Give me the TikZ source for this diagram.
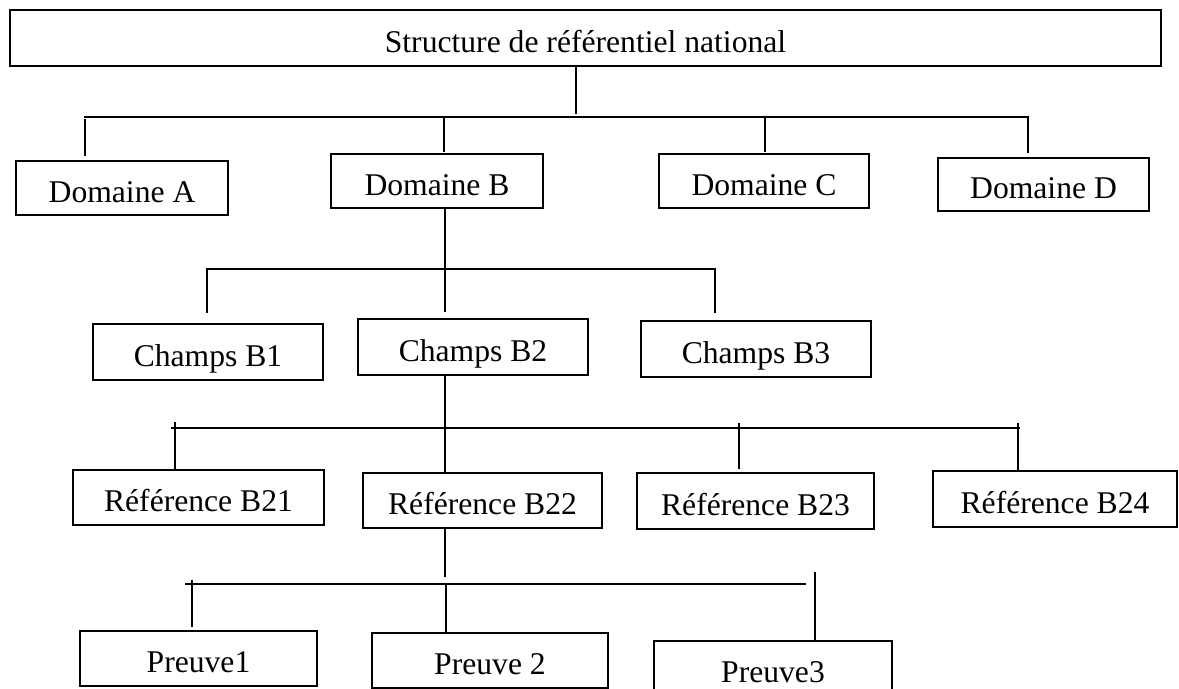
\documentclass[tikz,border=0pt]{standalone}
\usepackage{fontspec}
\setmainfont{Liberation Serif}
\usepackage{tikz}
\usetikzlibrary{calc,positioning}
\newlength\unitpx
\setlength\unitpx{0.02cm}
\tikzset{
  boxn/.style n args={2}{draw,line width=1.1pt,inner sep=0pt,
    minimum width=#1\unitpx,minimum height=#2\unitpx,
    font=\fontsize{18}{20}\selectfont,text height=16pt,text depth=0pt},
  link/.style={line width=0.6pt},
}

\begin{document}
\begin{tikzpicture}[x=0.02cm,y=-0.02cm]
  \useasboundingbox (0,0) rectangle (1179,689);
  \clip (0,0) rectangle (1179,689);
  % boxes
  \node[boxn={1151}{56}] (top) at (585.5,38) {Structure de référentiel national};
  \node[boxn={212}{54}] (domA) at (122,188)    {Domaine A};
  \node[boxn={212}{54}] (domB) at (437,181)    {Domaine B};
  \node[boxn={210}{54}] (domC) at (764,181)    {Domaine C};
  \node[boxn={211}{53}] (domD) at (1043.5,184.5) {Domaine D};
  \node[boxn={230}{56}] (chB1) at (208,352) {Champs B1};
  \node[boxn={230}{56}] (chB2) at (473,347) {Champs B2};
  \node[boxn={230}{56}] (chB3) at (756,349) {Champs B3};
  \node[boxn={251}{55}] (refB21) at (198.5,497.5) {Référence B21};
  \node[boxn={239}{55}] (refB22) at (482.5,500.5) {Référence B22};
  \node[boxn={237}{56}] (refB23) at (755.5,501)   {Référence B23};
  \node[boxn={244}{56}] (refB24) at (1055,499)    {Référence B24};
  \node[boxn={237}{55}] (pr1) at (198.5,658.5) {Preuve1};
  \node[boxn={236}{55}] (pr2) at (490,660.5)   {Preuve 2};
  \node[boxn={238}{54}] (pr3) at (773,668)     {Preuve3};

  % domaines
  \coordinate (j0) at (576,114);
  \draw[link] (j0 |- top.south) -- (j0);
  \draw[link] (84,117) -- (1028,117);
  \coordinate (dA) at (85,119);  \coordinate (dB) at (444,118);
  \coordinate (dC) at (765,118); \coordinate (dD) at (1028,116);
  \draw[link,shorten >=0.08cm] (dA) -- (dA |- domA.north);
  \draw[link,shorten >=0.02cm] (dB) -- (dB |- domB.north);
  \draw[link,shorten >=0.02cm] (dC) -- (dC |- domC.north);
  \draw[link,shorten >=0.08cm] (dD) -- (dD |- domD.north);

  % champs
  \coordinate (j1) at (445,312);
  \draw[link] (j1 |- domB.south) -- (j1);
  \draw[link] (207,269) -- (714,269);
  \coordinate (c1) at (207,268); \coordinate (c3) at (715,268);
  \draw[link,shorten >=0.2cm]  (c1) -- (c1 |- chB1.north);
  \draw[link,shorten >=0.14cm] (c3) -- (c3 |- chB3.north);

  % references
  \coordinate (j2) at (445,428);
  \draw[link] (j2 |- chB2.south) -- (j2 |- refB22.north);
  \draw[link] (171,428) -- (1020,428);
  \coordinate (r1) at (175,422); \coordinate (r3) at (739,423);
  \coordinate (r4) at (1018,423);
  \draw[link] (r1) -- (r1 |- refB21.north);
  \draw[link,shorten >=0.06cm] (r3) -- (r3 |- refB23.north);
  \draw[link] (r4) -- (r4 |- refB24.north);

  % preuves
  \coordinate (j3) at (445,577);
  \draw[link] (j3 |- refB22.south) -- (j3);
  \draw[link] (185,584) -- (806,584);
  \coordinate (p1) at (192,580); \coordinate (p2) at (446,584);
  \coordinate (p3) at (815,572);
  \draw[link,shorten >=0.06cm] (p1) -- (p1 |- pr1.north);
  \draw[link] (p2) -- (p2 |- pr2.north);
  \draw[link,shorten >=-0.02cm] (p3) -- (p3 |- pr3.north);
\end{tikzpicture}
\end{document}
